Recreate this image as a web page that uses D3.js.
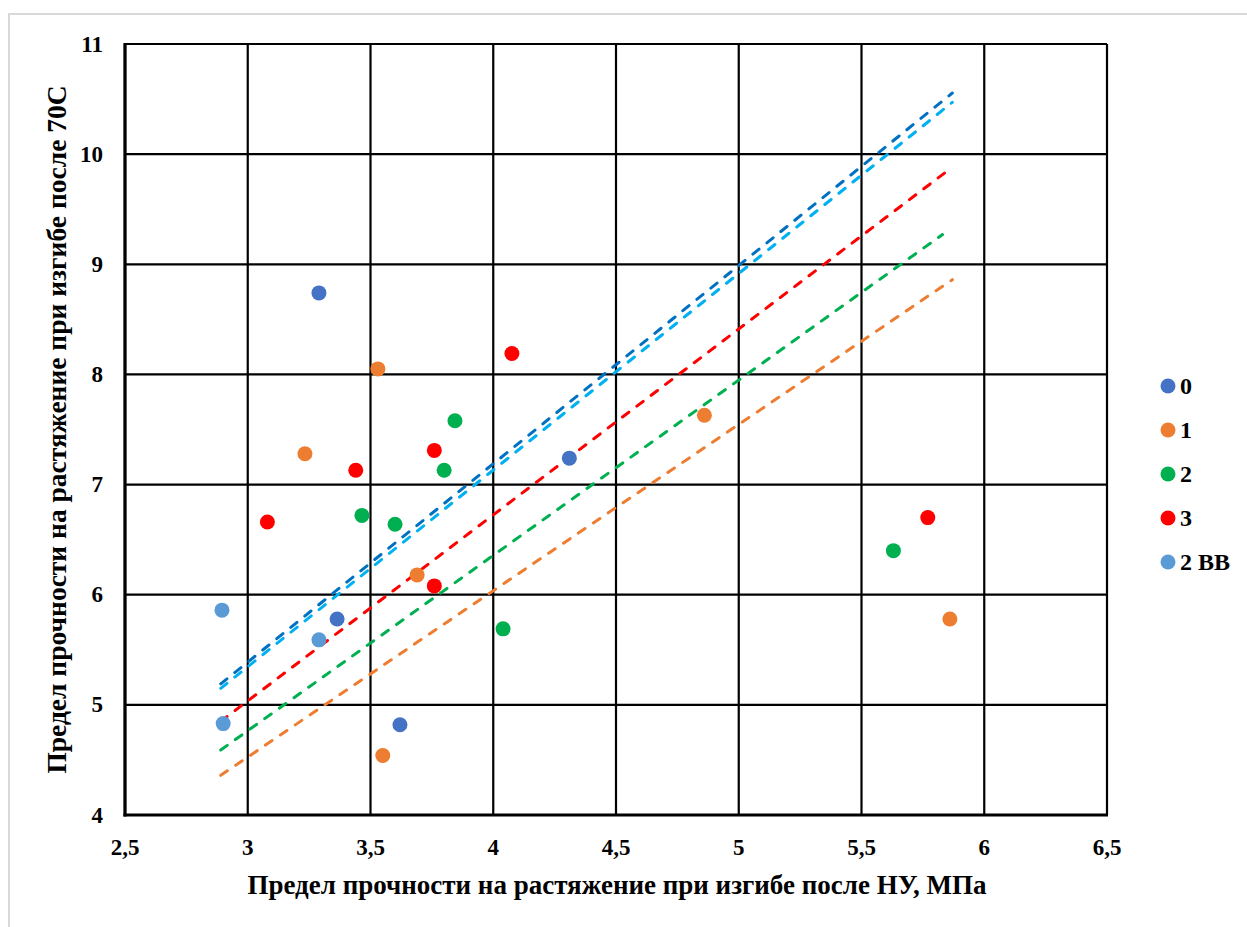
<!DOCTYPE html>
<html>
<head>
<meta charset="utf-8">
<script src="https://cdn.jsdelivr.net/npm/d3@7"></script>
<style>
  body { margin: 0; background: #fff; }
</style>
</head>
<body>
<svg id="chart" width="1247" height="927" font-family="'Liberation Serif', 'Times New Roman', serif" font-weight="bold"></svg>
<script>
// Scatter of bending strength: after NU (x) vs after 70C (y), with linear trends

const X_TICKS = [2.5, 3, 3.5, 4, 4.5, 5, 5.5, 6, 6.5];
const Y_TICKS = [4, 5, 6, 7, 8, 9, 10, 11];

const SERIES = ["0", "1", "2", "3", "2 BB"];
const SERIES_COLORS = ["#4472C4", "#ED7D31", "#00B050", "#FF0000", "#5B9BD5"];

// points per series: [x, y]
const POINTS_0 = [[3.29, 8.74], [3.364, 5.78], [3.62, 4.82], [4.31, 7.24]];
const POINTS_1 = [[3.53, 8.05], [3.233, 7.28], [3.69, 6.18], [3.55, 4.54], [4.86, 7.63], [5.86, 5.78]];
const POINTS_2 = [[3.844, 7.58], [3.80, 7.13], [3.465, 6.72], [3.60, 6.64], [4.04, 5.69], [5.63, 6.40]];
const POINTS_3 = [[4.076, 8.19], [3.76, 7.31], [3.44, 7.13], [3.08, 6.66], [3.76, 6.08], [5.77, 6.70]];
const POINTS_2BB = [[2.895, 5.86], [3.29, 5.59], [2.90, 4.83]];

// dashed trend lines: [x1, y1, x2, y2]
const TRENDS = [
  [2.89, 5.19, 5.87, 10.555],
  [2.89, 4.36, 5.87, 8.86],
  [2.89, 4.59, 5.83, 9.27],
  [2.89, 4.85, 5.86, 9.865],
  [2.89, 5.15, 5.87, 10.47],
];
const TREND_COLORS = ["#0070C0", "#ED7D31", "#00B050", "#FF0000", "#00B0F0"];

const X_TITLE = "Предел прочности на растяжение при изгибе после НУ, МПа";
const Y_TITLE = "Предел прочности на растяжение при изгибе после 70С";

const svg = d3.select("#chart");
const plot = { left: 125, top: 44, right: 1107, bottom: 815 };

const x = d3.scaleLinear().domain([2.5, 6.5]).range([plot.left, plot.right]);
const y = d3.scaleLinear().domain([4, 11]).range([plot.bottom, plot.top]);
const fmt = (v) => String(v).replace(".", ",");

// outer frame (only top/left edges visible in the crop)
svg.append("rect").attr("width", 1247).attr("height", 927).attr("fill", "#fff");
svg.append("path")
  .attr("d", "M9,927 V14 H1247")
  .attr("fill", "none")
  .attr("stroke", "#d9d9d9")
  .attr("stroke-width", 2);

// grid
const grid = svg.append("g");
grid.selectAll("line.v")
  .data(X_TICKS)
  .join("line")
  .attr("x1", (d) => x(d)).attr("x2", (d) => x(d))
  .attr("y1", plot.top).attr("y2", plot.bottom)
  .attr("stroke", "#000").attr("stroke-width", 2.2);
grid.selectAll("line.h")
  .data(Y_TICKS)
  .join("line")
  .attr("class", "h")
  .attr("x1", plot.left).attr("x2", plot.right)
  .attr("y1", (d) => y(d)).attr("y2", (d) => y(d))
  .attr("stroke", "#000").attr("stroke-width", 2.2);

// axes (thicker left and bottom)
svg.append("line")
  .attr("x1", plot.left).attr("x2", plot.left)
  .attr("y1", plot.top - 1).attr("y2", plot.bottom + 1.5)
  .attr("stroke", "#000").attr("stroke-width", 3.2);
svg.append("line")
  .attr("x1", plot.left - 1.5).attr("x2", plot.right + 1)
  .attr("y1", plot.bottom).attr("y2", plot.bottom)
  .attr("stroke", "#000").attr("stroke-width", 3.2);

// tick labels
svg.append("g").selectAll("text")
  .data(X_TICKS)
  .join("text")
  .attr("x", (d) => x(d))
  .attr("y", 855)
  .attr("text-anchor", "middle")
  .attr("font-size", 23)
  .text(fmt);

svg.append("g").selectAll("text")
  .data(Y_TICKS)
  .join("text")
  .attr("x", 103)
  .attr("y", (d) => y(d))
  .attr("dy", "0.33em")
  .attr("text-anchor", "end")
  .attr("font-size", 23)
  .text(fmt);

// axis titles
svg.append("text")
  .attr("x", 617)
  .attr("y", 894)
  .attr("text-anchor", "middle")
  .attr("font-size", 27)
  .text(X_TITLE);

svg.append("text")
  .attr("transform", `translate(66,${(plot.top + plot.bottom) / 2}) rotate(-90)`)
  .attr("text-anchor", "middle")
  .attr("font-size", 27.5)
  .text(Y_TITLE);

// trend lines
svg.append("g").selectAll("line")
  .data(TRENDS)
  .join("line")
  .attr("x1", (d) => x(d[0])).attr("y1", (d) => y(d[1]))
  .attr("x2", (d) => x(d[2])).attr("y2", (d) => y(d[3]))
  .attr("stroke", (d, i) => TREND_COLORS[i])
  .attr("stroke-width", 3)
  .attr("stroke-linecap", "round")
  .attr("stroke-dasharray", "8 10");

// points
const allPoints = [POINTS_0, POINTS_1, POINTS_2, POINTS_3, POINTS_2BB];
allPoints.forEach((pts, i) => {
  svg.append("g").selectAll("circle")
    .data(pts)
    .join("circle")
    .attr("cx", (d) => x(d[0]))
    .attr("cy", (d) => y(d[1]))
    .attr("r", 7.5)
    .attr("fill", SERIES_COLORS[i]);
});

// legend
const legend = svg.append("g");
const legendRows = legend.selectAll("g")
  .data(SERIES)
  .join("g")
  .attr("transform", (d, i) => `translate(1168,${386 + i * 44})`);
legendRows.append("circle")
  .attr("r", 7.5)
  .attr("fill", (d, i) => SERIES_COLORS[i]);
legendRows.append("text")
  .attr("x", 12)
  .attr("dy", "0.35em")
  .attr("font-size", 24)
  .text((d) => d);
</script>
</body>
</html>
